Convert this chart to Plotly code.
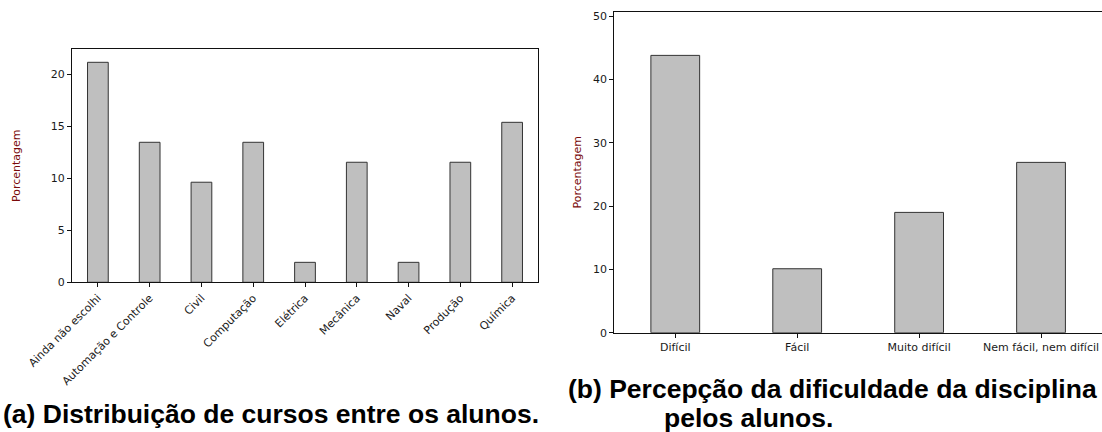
import plotly.graph_objects as go

W, H = 1102, 432

cursos = ["Ainda não escolhi", "Automação e Controle", "Civil", "Computação",
          "Elétrica", "Mecânica", "Naval", "Produção", "Química"]
cursos_pct = [21.15, 13.46, 9.62, 13.46, 1.92, 11.54, 1.92, 11.54, 15.38]

dificuldade = ["Difícil", "Fácil", "Muito difícil", "Nem fácil, nem difícil"]
dificuldade_pct = [43.8, 10.1, 19.0, 26.9]

caption_a = "(a) Distribuição de cursos entre os alunos."
caption_b1 = "(b) Percepção da dificuldade da disciplina"
caption_b2 = "pelos alunos."

BAR_FILL = "#bfbfbf"
BAR_LINE = "#333333"
TICK_FONT = dict(family="DejaVu Sans", size=11, color="#1a1a1a")
TITLE_FONT = dict(family="DejaVu Sans", size=11, color="#7a0a0a")
CAP_FONT = dict(family="Liberation Sans", size=26.5, color="black")


def px_x(p):
    return p / W


def px_y(p):
    return (H - p) / H


fig = go.Figure()
fig.add_trace(go.Bar(x=cursos, y=cursos_pct, width=0.4, xaxis="x", yaxis="y",
                     marker=dict(color=BAR_FILL, line=dict(color=BAR_LINE, width=1)),
                     showlegend=False, hoverinfo="skip"))
fig.add_trace(go.Bar(x=dificuldade, y=dificuldade_pct, width=0.4, xaxis="x2", yaxis="y2",
                     marker=dict(color=BAR_FILL, line=dict(color=BAR_LINE, width=1)),
                     showlegend=False, hoverinfo="skip"))

axis_common = dict(showgrid=False, zeroline=False, showline=True, linecolor="#111",
                   linewidth=1, ticks="outside", ticklen=4, tickcolor="#111",
                   tickfont=TICK_FONT, automargin=False)

fig.update_layout(
    width=W, height=H,
    margin=dict(l=0, r=0, t=0, b=0),
    paper_bgcolor="white", plot_bgcolor="white",
    bargap=0.6,
    xaxis=dict(domain=[px_x(72), px_x(538)], anchor="y", range=[-0.5, 8.5],
               tickangle=-45, mirror=True, **axis_common),
    yaxis=dict(domain=[px_y(282.3), px_y(49.3)], anchor="x", range=[0, 22.4],
               tickvals=[0, 5, 10, 15, 20], mirror=True,
               title=dict(text="Porcentagem", font=TITLE_FONT, standoff=27),
               **axis_common),
    xaxis2=dict(domain=[px_x(614.3), 1.0], anchor="y2", range=[-0.5, 3.5],
                mirror=True, **axis_common),
    yaxis2=dict(domain=[px_y(332.7), px_y(11.7)], anchor="x2", range=[0, 50.7],
                tickvals=[0, 10, 20, 30, 40, 50],
                title=dict(text="Porcentagem", font=TITLE_FONT, standoff=9),
                **axis_common),
    annotations=[
        dict(text="<b>" + caption_a + "</b>", xref="paper", yref="paper",
             x=px_x(1), y=px_y(414), xanchor="left", yanchor="middle",
             showarrow=False, font=CAP_FONT),
        dict(text="<b>" + caption_b1 + "</b>", xref="paper", yref="paper",
             x=px_x(566), y=px_y(389), xanchor="left", yanchor="middle",
             showarrow=False, font=CAP_FONT),
        dict(text="<b>" + caption_b2 + "</b>", xref="paper", yref="paper",
             x=px_x(662), y=px_y(418), xanchor="left", yanchor="middle",
             showarrow=False, font=CAP_FONT),
    ],
)

fig.write_html("out.html", config={"displayModeBar": False},
               post_script="document.body.style.margin='0';document.body.style.overflow='hidden';")
